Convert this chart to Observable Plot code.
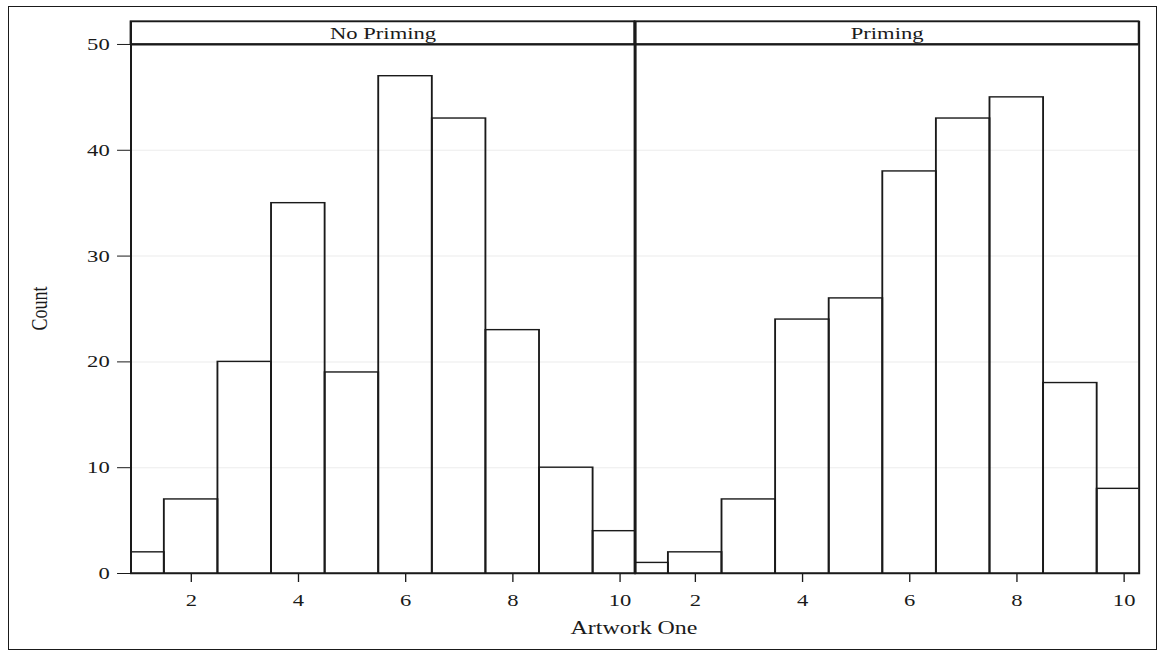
<!DOCTYPE html>
<html>
<head>
<meta charset="utf-8">
<script src="https://cdn.jsdelivr.net/npm/d3@7"></script>
<script src="https://cdn.jsdelivr.net/npm/@observablehq/plot@0.6"></script>
<style>
  body { margin: 0; background: #fff; }
  #chart { position: relative; width: 1160px; height: 652px; overflow: hidden; }
  #border { position: absolute; left: 8px; top: 6px; width: 1149px; height: 644px;
            border: 1.5px solid #1a1a1a; box-sizing: border-box; pointer-events: none; }
  #chart svg { position: absolute; left: 0; top: 0; }
</style>
</head>
<body>
<div id="chart"><div id="border"></div></div>
<script>
// Ratings of "Artwork One" (1–10), counts per rating, by priming condition
const panels = ["No Priming", "Priming"];
const scores = [1, 2, 3, 4, 5, 6, 7, 8, 9, 10];
const countsNoPriming = [2, 7, 20, 35, 19, 47, 43, 23, 10, 4];
const countsPriming = [1, 2, 7, 24, 26, 38, 43, 45, 18, 8];
const xTicks = [2, 4, 6, 8, 10];
const yTicks = [0, 10, 20, 30, 40, 50];
const gridValues = [10, 20, 30, 40];

const rows = [
  ...scores.map((s, i) => ({panel: panels[0], score: s, count: countsNoPriming[i]})),
  ...scores.map((s, i) => ({panel: panels[1], score: s, count: countsPriming[i]}))
];

// The figure is laid out narrow and then stretched horizontally by K
const K = 1.33;
const W = 1160 / K;
const H = 652;
const xDomain = [0.875, 10.28];
const yMax = 50;
const yTop = 52.17;           // top of the panel header strip
const ink = "#1a1a1a";
const font = "'Liberation Serif', 'Times New Roman', serif";

const plot = Plot.plot({
  width: W,
  height: H,
  marginLeft: 129 / K,
  marginRight: (1160 - 1139.5) / K,
  marginTop: 21,
  marginBottom: 79,
  style: {fontFamily: font, fontSize: "17px", color: ink, background: "transparent"},
  fx: {domain: panels, padding: 0, axis: null},
  x: {domain: xDomain, ticks: xTicks, tickSize: 9, tickPadding: 11, label: null, tickFormat: d => d},
  y: {domain: [0, yTop], ticks: yTicks, tickSize: 10, tickPadding: 6, label: null},
  marks: [
    Plot.ruleY(gridValues, {stroke: "#ececec", strokeWidth: 1}),
    Plot.rectY(rows, {
      fx: "panel",
      x1: d => d.score - 0.5,
      x2: d => d.score + 0.5,
      y: "count",
      fill: "none",
      stroke: ink,
      strokeWidth: 1.4,
      clip: true
    }),
    // header strip of each panel
    Plot.rect(panels, {
      fx: d => d,
      x1: () => xDomain[0],
      x2: () => xDomain[1],
      y1: () => yMax,
      y2: () => yTop,
      fill: "white",
      stroke: ink,
      strokeWidth: 1.1
    }),
    Plot.ruleY([yMax], {stroke: ink, strokeWidth: 2.2}),
    Plot.text(panels, {
      fx: d => d,
      x: () => (xDomain[0] + xDomain[1]) / 2,
      y: () => (yMax + yTop) / 2,
      text: d => d,
      fontSize: 17,
      fill: ink,
      dy: 1
    }),
    Plot.frame({stroke: ink, strokeWidth: 1.5}),
    // heavier divider between the two panels
    Plot.ruleX([panels[0]], {fx: d => d, x: () => xDomain[1], y1: () => 0, y2: () => yTop, stroke: ink, strokeWidth: 2.2})
  ]
});

// Stretch horizontally to the full page width
plot.setAttribute("viewBox", `0 0 ${W} ${H}`);
plot.setAttribute("width", 1160);
plot.setAttribute("height", H);
plot.setAttribute("preserveAspectRatio", "none");
plot.style.width = "1160px";
plot.style.height = H + "px";
plot.style.maxWidth = "none";

const svg = d3.select(plot);
svg.append("text")
  .attr("transform", `translate(${39 / K},${308.5}) rotate(-90)`)
  .attr("text-anchor", "middle")
  .attr("dy", "0.35em")
  .attr("font-family", font)
  .attr("font-size", 18)
  .attr("fill", ink)
  .text("Count");
svg.append("text")
  .attr("x", 634 / K)
  .attr("y", 634)
  .attr("text-anchor", "middle")
  .attr("font-family", font)
  .attr("font-size", 18)
  .attr("fill", ink)
  .text("Artwork One");

document.getElementById("chart").appendChild(plot);
</script>
</body>
</html>
